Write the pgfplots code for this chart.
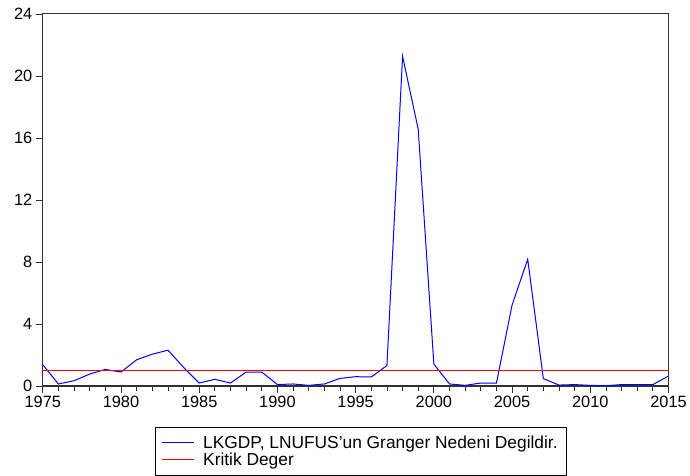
\documentclass[border=0pt]{standalone}
\usepackage{pgfplots}
\pgfplotsset{compat=1.18}
\usepackage{fontspec}
\setmainfont{Liberation Sans}
\definecolor{axgray}{RGB}{50,50,50}
\begin{document}
\begin{tikzpicture}
\begin{axis}[
  name=ax,
  scale only axis,
  width=629bp, height=374bp,
  xmin=1975, xmax=2015, ymin=0, ymax=24,
  xtick={1975,1980,...,2015},
  ytick={0,4,...,24},
  minor x tick num=4,
  xtick pos=bottom, ytick pos=left,
  tick align=outside,
  major tick length=7bp, minor tick length=5bp,
  axis line style={axgray, line width=1.1bp},
  every tick/.style={axgray, line width=0.8bp},
  /pgf/number format/1000 sep={},
  /pgf/number format/assume math mode=true,
  tick label style={font=\fontsize{16.5}{18}\selectfont},
  legend style={name=leg, at={(0.5075,-0.11)}, anchor=north, draw=none,
    font=\fontsize{17.5}{19}\selectfont, cells={anchor=west},
    inner xsep=6bp, inner ysep=6.5bp, row sep=-1bp, column sep=7bp},
]
\addplot[draw=blue, line width=1bp,
  legend image code/.code={\draw[draw=blue, line width=1.4bp] (0bp,0bp) -- (32bp,0bp);}] coordinates {
(1975,1.37) (1976,0.13) (1977,0.34) (1978,0.77) (1979,1.07) (1980,0.90)
(1981,1.69) (1982,2.05) (1983,2.31) (1984,1.20) (1985,0.19) (1986,0.43)
(1987,0.19) (1988,0.90) (1989,0.90) (1990,0.09) (1991,0.13) (1992,0.04)
(1993,0.13) (1994,0.49) (1995,0.60) (1996,0.58) (1997,1.32) (1998,21.27)
(1999,16.56) (2000,1.41) (2001,0.13) (2002,0.04) (2003,0.19) (2004,0.19)
(2005,5.22) (2006,8.17) (2007,0.47) (2008,0.06) (2009,0.09) (2010,0.04)
(2011,0.02) (2012,0.09) (2013,0.09) (2014,0.09) (2015,0.64)
};
\addlegendentry{LKGDP, LNUFUS\char39 un Granger Nedeni Degildir.\hspace{3bp}}
\addplot[draw=red, line width=1bp,
  legend image code/.code={\draw[draw=red, line width=1.4bp] (0bp,0bp) -- (32bp,0bp);}] coordinates {(1975,1.0) (2015,1.0)};
\addlegendentry{Kritik Deger}
\end{axis}
\draw[black, line width=0.6bp] (leg.south west) rectangle (leg.north east);
\path (ax.south west) ++(-43bp,-90bp) coordinate (bl);
\path (ax.north east) ++(18.4bp,14bp) coordinate (tr);
\path (bl) rectangle (tr);
\end{tikzpicture}
\end{document}
